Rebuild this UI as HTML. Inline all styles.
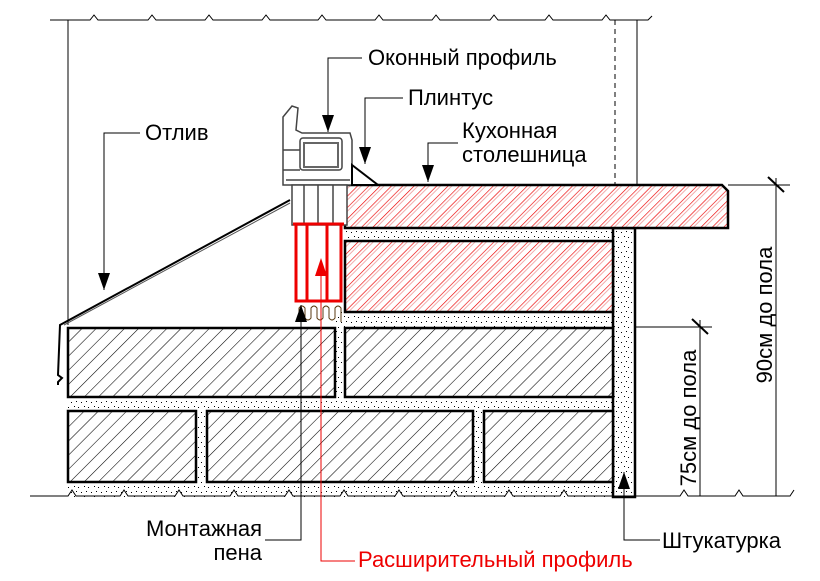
<!DOCTYPE html>
<html><head><meta charset="utf-8"><style>
html,body{margin:0;padding:0;background:#fff}
svg{display:block}
text{font-family:"Liberation Sans",sans-serif;font-size:22px}
</style></head><body>
<svg width="820" height="581" viewBox="0 0 820 581" xmlns="http://www.w3.org/2000/svg">
<defs>
<pattern id="hb" width="10" height="10" patternUnits="userSpaceOnUse" patternTransform="rotate(45)">
<rect width="10" height="10" fill="#fff"/><line x1="0" y1="0" x2="0" y2="10" stroke="#000" stroke-width="1.1"/></pattern>
<pattern id="hr" width="8" height="8" patternUnits="userSpaceOnUse" patternTransform="rotate(45)">
<rect width="8" height="8" fill="#fff"/><line x1="0" y1="0" x2="0" y2="8" stroke="#e00" stroke-width="1.3"/><line x1="3" y1="0" x2="3" y2="8" stroke="#e99" stroke-width="0.8"/></pattern>
<pattern id="dots" width="10" height="10" patternUnits="userSpaceOnUse">
<rect x="1" y="2" width="1" height="1" fill="#000"/><rect x="6" y="1" width="1" height="1" fill="#000"/><rect x="4" y="6" width="1" height="1" fill="#000"/><rect x="8" y="7" width="1" height="1" fill="#000"/></pattern>
<marker id="ar" markerWidth="18" markerHeight="12" refX="17" refY="6" orient="auto" markerUnits="userSpaceOnUse"><path d="M0,0 L17,6 L0,12z" fill="#000"/></marker>
</defs>
<polyline fill="none" stroke="#000" stroke-width="1" points="50,20 90,20 94,15 98,20 148,20 152,15 156,20 205,20 209,15 213,20 262,20 266,15 270,20 318,20 322,15 326,20 375,20 379,15 383,20 432,20 436,15 440,20 490,20 494,15 498,20 545,20 549,15 553,20 602,20 606,15 610,20 648,20 652,16"/>
<line x1="68" y1="20" x2="68" y2="325" stroke="#000"/>
<line x1="615" y1="20" x2="615" y2="185" stroke="#000" stroke-dasharray="5,4"/>
<line x1="637" y1="20" x2="637" y2="185" stroke="#000"/>
<rect x="68" y="397" width="545" height="100" fill="url(#dots)"/>
<rect x="335" y="312" width="278" height="90" fill="url(#dots)"/>
<rect x="345" y="228" width="268" height="90" fill="url(#dots)"/>
<rect x="613" y="228" width="22" height="269" fill="url(#dots)" stroke="#000" stroke-width="2.5"/>
<path d="M345,185 H722 L728,191 V228 H345 Z" fill="url(#hr)" stroke="#000" stroke-width="2.5"/>
<rect x="345" y="241" width="268" height="71" fill="url(#hr)" stroke="#000" stroke-width="2.5"/>
<rect x="68" y="328" width="267" height="69" fill="url(#hb)" stroke="#000" stroke-width="2.5"/>
<rect x="345" y="328" width="268" height="69" fill="url(#hb)" stroke="#000" stroke-width="2.5"/>
<rect x="68" y="411" width="128" height="71" fill="url(#hb)" stroke="#000" stroke-width="2.5"/>
<rect x="207" y="411" width="266" height="71" fill="url(#hb)" stroke="#000" stroke-width="2.5"/>
<rect x="484" y="411" width="129" height="71" fill="url(#hb)" stroke="#000" stroke-width="2.5"/>
<polyline fill="none" stroke="#000" points="30,496 68,496 72,490 76,496 120,496 124,490 128,496 175,496 179,490 183,496 230,496 234,490 238,496 285,496 289,490 293,496 340,496 344,490 348,496 395,496 399,490 403,496 450,496 454,490 458,496 505,496 509,490 513,496 560,496 564,490 568,496 680,496 684,490 688,496 735,496 739,490 743,496 790,496 794,490"/>
<polyline fill="none" stroke="#000" stroke-width="2" points="290,200 60,325 58,375 62,378 58,382 58,385"/>
<line x1="290" y1="203" x2="64" y2="325" stroke="#555" stroke-width="1"/>
<g fill="#fff" stroke="#444" stroke-width="1.5">
<path d="M283,117 L292,106 L298,108 L296,130 L302,133 L350,133 L352,140 L352,185 L283,185 Z"/>
<rect x="300" y="138" width="42" height="32" rx="3"/>
<rect x="304" y="143" width="34" height="24" fill="none" stroke="#666" stroke-width="2"/>
<rect x="292" y="185" width="55" height="40"/>
<line x1="304" y1="185" x2="304" y2="225"/><line x1="318" y1="185" x2="318" y2="225"/><line x1="333" y1="185" x2="333" y2="225"/>
<line x1="283" y1="150" x2="300" y2="150"/><line x1="283" y1="170" x2="300" y2="170"/>
<line x1="286" y1="180" x2="350" y2="180"/>
</g>
<g fill="none" stroke="#e00" stroke-width="3">
<rect x="296" y="224" width="45" height="77"/>
<line x1="307" y1="224" x2="307" y2="301"/><line x1="327" y1="224" x2="327" y2="301"/>
</g>
<line x1="293" y1="224" x2="344" y2="224" stroke="#e00" stroke-width="3"/>
<path d="M299,322 V308 Q302,304 305,308 V318 Q308,322 311,318 V308 Q314,304 317,308 V318 Q320,322 323,318 V308 Q326,304 329,308 V318 Q332,322 335,318 V308 Q338,304 341,308 V322" fill="none" stroke="#5a3a10" stroke-width="1"/>
<path d="M352,165 L352,185 L378,185 Z" fill="#fff" stroke="#000" stroke-width="2"/>
<line x1="728" y1="185" x2="790" y2="185" stroke="#000"/>
<line x1="776" y1="178" x2="776" y2="496" stroke="#000"/>
<line x1="768" y1="177" x2="784" y2="192" stroke="#000" stroke-width="2"/>
<line x1="635" y1="327" x2="712" y2="327" stroke="#000"/>
<line x1="700" y1="320" x2="700" y2="496" stroke="#000"/>
<line x1="692" y1="319" x2="708" y2="334" stroke="#000" stroke-width="2"/>
<text transform="translate(772,315) rotate(-90)" text-anchor="middle" font-size="27">90см до пола</text>
<text transform="translate(696,418) rotate(-90)" text-anchor="middle" font-size="27">75см до пола</text>
<g stroke="#000" fill="none" stroke-width="1">
<polyline points="362,58 328,58 328,132" marker-end="url(#ar)"/>
<polyline points="403,98 365,98 365,164" marker-end="url(#ar)"/>
<polyline points="458,143 428,143 428,182" marker-end="url(#ar)"/>
<polyline points="140,133 104,133 104,290" marker-end="url(#ar)"/>
<polyline points="265,540 301,540 301,305" marker-end="url(#ar)"/>
<polyline points="660,540 624,540 624,472" marker-end="url(#ar)"/>
</g>
<polyline points="355,561 321,561 321,272" fill="none" stroke="#e00"/>
<path d="M315,276 L327,276 L321,258 Z" fill="#e00"/>
<text x="368" y="65">Оконный профиль</text>
<text x="408" y="105">Плинтус</text>
<text x="462" y="138">Кухонная</text>
<text x="462" y="162">столешница</text>
<text x="145" y="140">Отлив</text>
<text x="262" y="536" text-anchor="end">Монтажная</text>
<text x="262" y="560" text-anchor="end">пена</text>
<text x="358" y="567" fill="#e00">Расширительный профиль</text>
<text x="662" y="548">Штукатурка</text>
</svg>
</body></html>
